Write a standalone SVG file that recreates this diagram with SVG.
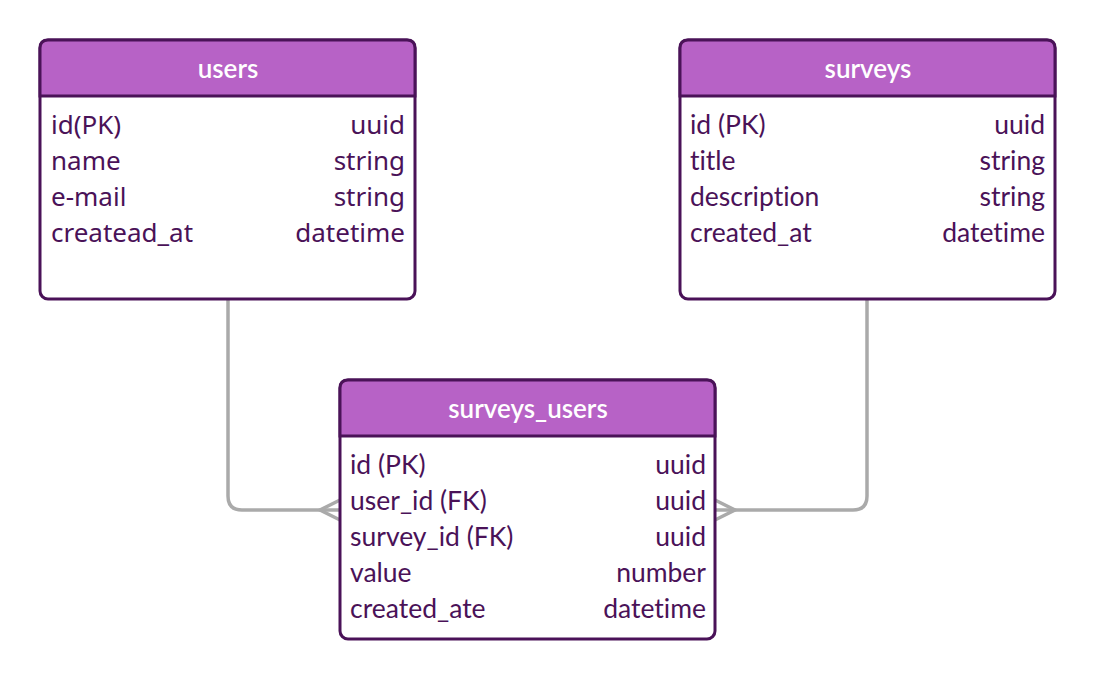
<svg xmlns="http://www.w3.org/2000/svg" width="1096" height="680" viewBox="0 0 1096 680">
<style>
.box{fill:#ffffff;stroke:#4a1258;stroke-width:3}
.hdr{fill:#b762c6;stroke:#4a1258;stroke-width:3}
text{font-variant-ligatures:none}
.title{font-family:Lato,"Liberation Sans",sans-serif;font-size:26px;font-weight:600;fill:#ffffff;text-anchor:middle}
.row{font-family:Lato,"Liberation Sans",sans-serif;font-size:26.5px;fill:#4a1258}
.rowN{font-family:"Noto Sans","Liberation Sans",sans-serif;font-size:26px;fill:#4a1258}
.r{text-anchor:end}
.conn{fill:none;stroke:#aaaaaa;stroke-width:3.5}
</style>
<rect width="1096" height="680" fill="#ffffff"/>
<g id="connectors">
<path class="conn" d="M228,300 V496 Q228,510 242,510 H340"/>
<path class="conn" d="M340,500 L320,510 L340,520"/>
<path class="conn" d="M867,300 V496 Q867,510 853,510 H715"/>
<path class="conn" d="M715,500 L735,510 L715,520"/>
</g>
<g id="users">
<rect class="box" x="40" y="40" width="375" height="259" rx="8"/>
<path class="hdr" d="M40,96 V48 Q40,40 48,40 H407 Q415,40 415,48 V96 Z"/>
<text class="title" x="228" y="78">users</text>
<text class="rowN" x="51" y="134">id(PK)</text><text class="rowN r" x="405" y="134">uuid</text>
<text class="rowN" x="51" y="170">name</text><text class="rowN r" x="405" y="170">string</text>
<text class="rowN" x="51" y="206">e-mail</text><text class="rowN r" x="405" y="206">string</text>
<text class="rowN" x="51" y="242">createad_at</text><text class="rowN r" x="405" y="242">datetime</text>
</g>
<g id="surveys">
<rect class="box" x="680" y="40" width="375" height="259" rx="8"/>
<path class="hdr" d="M680,96 V48 Q680,40 688,40 H1047 Q1055,40 1055,48 V96 Z"/>
<text class="title" x="868" y="78">surveys</text>
<text class="row" x="690" y="134">id (PK)</text><text class="row r" x="1045" y="134">uuid</text>
<text class="row" x="690" y="170">title</text><text class="row r" x="1045" y="170">string</text>
<text class="row" x="690" y="206">description</text><text class="row r" x="1045" y="206">string</text>
<text class="row" x="690" y="242">created_at</text><text class="row r" x="1045" y="242">datetime</text>
</g>
<g id="surveys_users">
<rect class="box" x="340" y="380" width="375" height="259" rx="8"/>
<path class="hdr" d="M340,436 V388 Q340,380 348,380 H707 Q715,380 715,388 V436 Z"/>
<text class="title" x="528" y="418">surveys_users</text>
<text class="row" x="350" y="474">id (PK)</text><text class="row r" x="706" y="474">uuid</text>
<text class="row" x="350" y="510">user_id (FK)</text><text class="row r" x="706" y="510">uuid</text>
<text class="row" x="350" y="546">survey_id (FK)</text><text class="row r" x="706" y="546">uuid</text>
<text class="row" x="350" y="582">value</text><text class="row r" x="706" y="582">number</text>
<text class="row" x="350" y="618">created_ate</text><text class="row r" x="706" y="618">datetime</text>
</g>
</svg>
